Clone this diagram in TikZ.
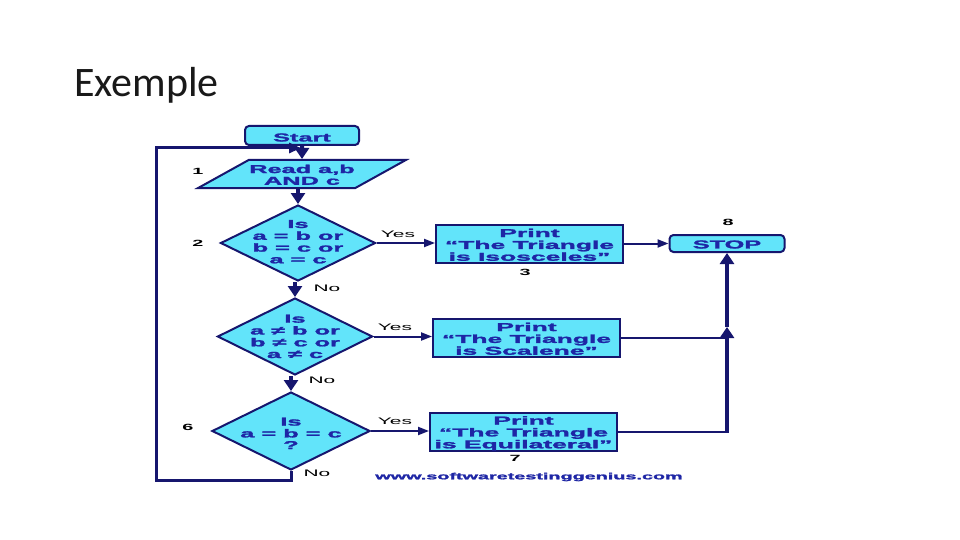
\documentclass[tikz,border=0pt]{standalone}
\usepackage{fontspec}
\setmainfont{Liberation Sans}
\newfontfamily\heavy[BoldFeatures={FakeBold=1.6}]{Liberation Sans}
\newfontfamily\titlefont{Carlito}
\usetikzlibrary{shapes.geometric,arrows.meta}
\definecolor{navy}{RGB}{22,22,110}
\definecolor{navytxt}{RGB}{30,38,165}
\definecolor{cyanfill}{RGB}{98,228,250}
\newcommand\st[1]{\scalebox{2.2}[1]{#1}}
\newcommand\stk[1]{\scalebox{2.2}[1]{\begin{tabular}{@{}c@{}}#1\end{tabular}}}
\newcommand\stkb[1]{\scalebox{2.3}[1]{\begin{tabular}{@{}c@{}}#1\end{tabular}}}
\begin{document}
\begin{tikzpicture}[x=1pt,y=-1pt,
  shp/.style={draw=navy, fill=cyanfill, line width=2pt, inner sep=0pt},
  rbox/.style={shp, rectangle, rounded corners=4pt},
  pbox/.style={shp, rectangle},
  para/.style={shp, trapezium, trapezium left angle=31, trapezium right angle=149,
    trapezium stretches=true, inner sep=1pt},
  dia/.style={shp, diamond},
  txt/.style={text=navytxt, font=\fontsize{11.5}{11.7}\selectfont\heavy\bfseries, inner sep=0pt},
  num/.style={font=\fontsize{9}{9}\selectfont\bfseries, text=black, inner sep=0pt},
  yn/.style={font=\fontsize{9.5}{9.5}\selectfont, text=black, inner sep=0pt},
  flow/.style={draw=navy, line width=4pt, -{Triangle[length=11pt,width=14pt]}},
  side/.style={draw=navy, line width=2pt, -{Triangle[length=11pt,width=8pt]}},
  plain/.style={draw=navy, line width=2pt},
  loopline/.style={draw=navy, line width=3pt, -{Triangle[length=12pt,width=10pt]}}
]
\useasboundingbox (0,0) rectangle (960,540);
\fill[white] (0,0) rectangle (960,540);

\node[anchor=base west, inner sep=0pt, font=\titlefont\fontsize{42}{42}\selectfont, text=black!90] (title) at (74,97) {Exemple};

% shapes
\node[rbox, minimum width=114pt, minimum height=19pt] (start) at (302,135.5) {};
\node[para, minimum width=208pt, minimum height=28pt] (read) at (302,174) {\phantom{\stk{Read a,b\\AND c}}};
\node[dia, minimum width=155pt, minimum height=76pt] (d1) at (298,243) {};
\node[dia, minimum width=155pt, minimum height=77pt] (d2) at (295,336.5) {};
\node[dia, minimum width=158pt, minimum height=78pt] (d3) at (291,431) {};
\node[pbox, minimum width=187pt, minimum height=38pt] (b1) at (529.5,243.5) {};
\node[pbox, minimum width=187pt, minimum height=38pt] (b2) at (526.5,338) {};
\node[pbox, minimum width=187pt, minimum height=38pt] (b3) at (523.5,431.5) {};
\node[rbox, minimum width=115pt, minimum height=17pt] (stop) at (727,243.5) {};

% texts in shapes
\node[txt] (startt) at (302,137.5) {\st{Start}};
\node[txt] (readt) at (302,176.5) {\stk{Read a,b\\AND c}};
\node[txt] (d1t) at (298,243.3) {\stk{Is\\a = b or\\b = c or\\a = c}};
\node[txt] (d2t) at (295,338) {\stk{Is\\a ≠ b or\\b ≠ c or\\a ≠ c}};
\node[txt] (d3t) at (291,435) {\stk{Is\\a = b = c\\?}};
\node[txt] (b1t) at (529.5,246.5) {\stkb{Print\\“The Triangle\\is Isosceles”}};
\node[txt] (b2t) at (526.5,340.5) {\stkb{Print\\“The Triangle\\is Scalene”}};
\node[txt] (b3t) at (523.5,434) {\stkb{Print\\“The Triangle\\is Equilateral”}};
\node[txt] (stopt) at (727,244.5) {\st{STOP}};

% numbers
\node[num] (n1) at (198,171) {\st{1}};
\node[num] (n2) at (198,243) {\st{2}};
\node[num] (n3) at (525,272) {\st{3}};
\node[num] (n6) at (188,427) {\st{6}};
\node[num] (n7) at (515,458) {\st{7}};
\node[num] (n8) at (728,222) {\st{8}};

% yes / no
\node[yn] (y1) at (398,234) {\st{Yes}};
\node[yn] (y2) at (395,327) {\st{Yes}};
\node[yn] (y3) at (395,421) {\st{Yes}};
\node[yn] (no1) at (327,288) {\st{No}};
\node[yn] (no2) at (322,380) {\st{No}};
\node[yn] (no3) at (317,473) {\st{No}};

\node[font=\fontsize{9}{9}\selectfont\heavy\bfseries, text=navytxt, inner sep=0pt] (www) at (529,477) {\st{www.softwaretestinggenius.com}};

% vertical flow
\draw[flow] (start.south) -- (read.north);
\draw[flow] (read.south -| d1.north) -- (d1.north);
\draw[flow] (d1.south -| d2.north) -- (d2.north);
\draw[flow] (d2.south -| d3.north) -- (d3.north);

% yes branches
\draw[side] (d1.east) -- (d1.east -| b1.west);
\draw[side] (d2.east) -- (d2.east -| b2.west);
\draw[side] (d3.east) -- (d3.east -| b3.west);
\draw[side] (b1.east) -- (b1.east -| stop.west);

% right collector
\coordinate (j2) at (727,338);
\coordinate (j3) at (727,431.5);
\coordinate (jm) at (727,327);
\draw[plain] (b2.east) -- (j2);
\draw[plain] (b3.east) -- ([xshift=2pt]j3);
\draw[flow] ([yshift=1pt]j3) -- (jm);
\draw[flow] (jm) -- (stop.south);

% loop back
\coordinate (c1) at (291,480);
\coordinate (c2) at (156,480);
\coordinate (c3) at (156,148);
\coordinate (c4) at (301,148);
\draw[loopline] (d3.south) -- (c1) -- (c2) -- (c3) -- (c4);
\end{tikzpicture}
\end{document}
